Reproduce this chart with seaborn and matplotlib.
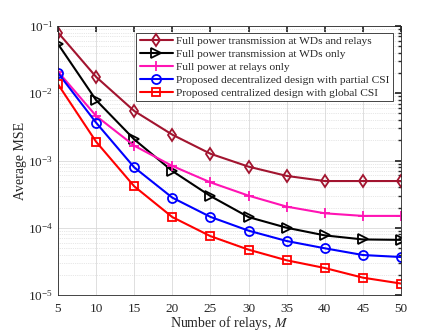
import matplotlib
matplotlib.use("Agg")
import matplotlib.pyplot as plt
import seaborn as sns
import numpy as np
import pandas as pd
from matplotlib.ticker import LogLocator, LogFormatterMathtext, NullFormatter

relays = [5, 10, 15, 20, 25, 30, 35, 40, 45, 50]
full_both = [0.080, 0.0175, 0.00545, 0.00242, 0.00126, 8.1e-4, 5.9e-4, 4.95e-4, 4.95e-4, 4.95e-4]
full_wd = [0.054, 0.0079, 0.00206, 6.98e-4, 2.96e-4, 1.44e-4, 1.0e-4, 7.7e-5, 6.7e-5, 6.6e-5]
full_relay = [0.021, 0.0046, 0.00166, 8.3e-4, 4.73e-4, 3.0e-4, 2.06e-4, 1.64e-4, 1.5e-4, 1.5e-4]
decentral = [0.0200, 0.00365, 7.9e-4, 2.8e-4, 1.45e-4, 9.05e-5, 6.35e-5, 4.95e-5, 3.93e-5, 3.67e-5]
central = [0.0136, 0.0019, 4.13e-4, 1.44e-4, 7.5e-5, 4.72e-5, 3.28e-5, 2.52e-5, 1.81e-5, 1.48e-5]

labels = [
    "Full power transmission at WDs and relays",
    "Full power transmission at WDs only",
    "Full power at relays only",
    "Proposed decentralized design with partial CSI",
    "Proposed centralized design with global CSI",
]
series = [full_both, full_wd, full_relay, decentral, central]
colors = ["#A2142F", "#000000", "#FF14B4", "#0000FF", "#FF0000"]
markers = ["d", ">", "+", "o", "s"]
msizes = [6.5, 6.5, 7.5, 6.5, 5.5]

sns.set_theme(style="white")
plt.rcParams["font.family"] = ["Liberation Serif", "DejaVu Serif"]
plt.rcParams["mathtext.fontset"] = "stix"

fig = plt.figure(figsize=(4.43, 3.32), dpi=100)
ax = fig.add_axes([58/443, 1 - 295/332, (401-58)/443, (295-26)/332])

for lab, ys, c, m, ms in zip(labels, series, colors, markers, msizes):
    df = pd.DataFrame({"M": relays, "MSE": ys})
    sns.lineplot(data=df, x="M", y="MSE", ax=ax, color=c, marker=m, markersize=ms,
                 markerfacecolor="none", markeredgecolor=c, markeredgewidth=1.3,
                 linewidth=1.5, label=lab)

ax.set_yscale("log")
ax.set_xlim(5, 50)
ax.set_ylim(1e-5, 1e-1)
ax.set_xticks(relays)
ax.yaxis.set_major_locator(LogLocator(base=10, numticks=10))
ax.yaxis.set_major_formatter(LogFormatterMathtext())
ax.yaxis.set_minor_locator(LogLocator(base=10, subs=np.arange(2, 10), numticks=20))
ax.yaxis.set_minor_formatter(NullFormatter())

ax.grid(True, which="major", color="#d9d9d9", linewidth=0.6, linestyle="-")
ax.grid(True, which="minor", color="#d0d0d0", linewidth=0.5, linestyle=":")
ax.tick_params(axis="both", which="both", direction="in", top=True, right=True,
               labelsize=9.5, colors="#262626")
ax.tick_params(axis="x", which="major", pad=6)
ax.tick_params(which="major", length=4)
ax.tick_params(which="minor", length=2)
for s in ax.spines.values():
    s.set_color("#262626")
    s.set_linewidth(0.6)

ax.set_xlabel("Number of relays, $M$", fontsize=10, color="#262626")
ax.xaxis.set_label_coords(0.5, -0.072)
ax.set_ylabel("Average MSE", fontsize=10, color="#262626")
ax.yaxis.set_label_coords(-0.09, 0.5)

leg = ax.legend(loc="upper right", fontsize=8.2, frameon=True, fancybox=False,
                edgecolor="#262626", framealpha=1, borderpad=0.3, labelspacing=0.25,
                handlelength=2.9, handletextpad=0.3, borderaxespad=0)
leg.get_frame().set_linewidth(0.6)
leg.set_bbox_to_anchor(((393-58)/(401-58), 1 - (33-26)/269), transform=ax.transAxes)

fig.savefig("out.png", dpi=100)
